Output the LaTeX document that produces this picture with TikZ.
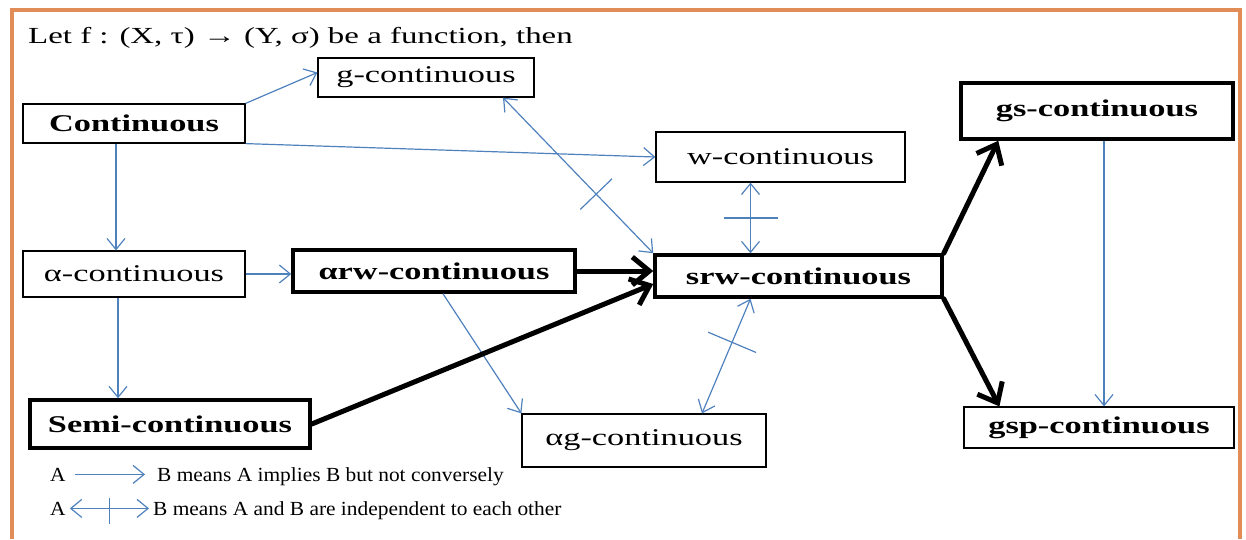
\documentclass[tikz,border=0pt]{standalone}
\usepackage{fontspec}
\setmainfont{Liberation Serif}[FakeStretch=1.43]
\newfontfamily\legendfont{Liberation Serif}[FakeStretch=1.07]
\usepackage{xcolor}
\usetikzlibrary{arrows.meta, decorations.markings}

\definecolor{linkblue}{RGB}{79,129,189}
\definecolor{frameorange}{RGB}{226,141,88}

\tikzset{
    box/.style={draw, fill=white, line width=1.2pt, inner sep=0pt, font=\fontsize{24}{28}\selectfont},
    boldbox/.style={box, line width=3.5pt, font=\fontsize{24}{28}\selectfont\bfseries},
    legend/.style={inner sep=4pt, font=\legendfont\fontsize{20}{24}\selectfont},
    implies/.style={draw=linkblue, line width=1.2pt, -{Straight Barb[length=11pt,width=18pt]}},
    strong/.style={line width=5pt, line cap=round, -{Straight Barb[length=17pt,width=28pt]}},
    indep/.style n args={3}{draw=linkblue, line width=1.2pt,
        {Straight Barb[length=11pt,width=18pt]}-{Straight Barb[length=11pt,width=18pt]},
        postaction={decorate},
        decoration={markings, mark=at position #1 with {\draw[arrows=-, linkblue, line width=1.2pt] (0,#2) -- (0,-#3);}}},
}

\begin{document}
\begin{tikzpicture}[x=1pt, y=-1pt]
                \useasboundingbox (0,0) rectangle (1246,539);
                \draw[frameorange, line width=4pt] (12,539) -- (12,10) -- (1240,10) -- (1240,539);
                \node[anchor=base west, inner sep=0pt, font=\fontsize{23}{28}\selectfont] (title) at (28,43) {Let f : (X, τ) → (Y, σ) be a function, then};

                % implications
                \node at (134,123.5) [boldbox, line width=1.2pt, minimum width=222pt, minimum height=39pt] (cont) {Continuous};
                \node at (426,77.5) [box, minimum width=216pt, minimum height=39pt] (gcont) {g-continuous};
                \node at (780.5,157) [box, minimum width=249pt, minimum height=50pt] (wcont) {w-continuous};
                \node at (1097,111) [boldbox, minimum width=272pt, minimum height=56pt] (gscont) {gs-continuous};
                \node at (134,274) [box, minimum width=222pt, minimum height=46pt] (acont) {α-continuous};
                \node at (434,271) [boldbox, minimum width=282pt, minimum height=42pt] (arwcont) {αrw-continuous};
                \node at (798.5,276) [boldbox, minimum width=287pt, minimum height=42pt] (srwcont) {srw-continuous};
                \node at (644,440.5) [box, minimum width=244pt, minimum height=53pt] (agcont) {αg-continuous};
                \node at (170,424) [boldbox, minimum width=280pt, minimum height=48pt] (semicont) {Semi-continuous};
                \node at (1099,427.5) [boldbox, line width=1.2pt, minimum width=270pt, minimum height=41pt] (gspcont) {gsp-continuous};

                \draw[implies] (cont.north east) -- ([yshift=5pt]gcont.west);
                \draw[implies] (cont.south east) -- (wcont.west);
                \draw[implies] ([xshift=-18pt]cont.south) -- ([xshift=-18pt]acont.north);
                \draw[implies] (acont.east) -- (acont.east -| arwcont.west);
                \draw[implies] ([xshift=-16pt]acont.south) -- ([xshift=-16pt]acont.south |- semicont.north);
                \draw[implies] ([xshift=9pt]arwcont.south) -- (agcont.north west);
                \draw[implies] ([xshift=7pt]gscont.south) -- ([xshift=7pt]gscont.south |- gspcont.north);

                \draw[strong] (arwcont.east) -- (arwcont.east -| srwcont.west);
                \draw[strong] (semicont.east) -- ([yshift=-8pt]srwcont.west);
                \draw[strong] (srwcont.north east) -- ([xshift=39pt]gscont.south west);
                \draw[strong] (srwcont.south east) -- ([xshift=36pt]gspcont.north west);

                \draw[indep={0.62}{22pt}{22pt}] ([xshift=77pt]gcont.south) -- (srwcont.north west);
                \draw[indep={0.5}{27pt}{27pt}] ([xshift=-30pt]wcont.south) -- ([xshift=-30pt]wcont.south |- srwcont.north);
                \draw[indep={0.38}{26pt}{26pt}] ([xshift=-48pt]srwcont.south) -- ([xshift=58pt]agcont.north);

                % legend
                \node at (46,481) [legend, anchor=base west] (legA1) {A};
                \node at (153,481) [legend, anchor=base west] (legB1) {B means A implies B but not conversely};
                \node at (46,515) [legend, anchor=base west] (legA2) {A};
                \node at (149,515) [legend, anchor=base west] (legB2) {B means A and B are independent to each other};
                \draw[implies, shorten <=5pt, shorten >=8pt] (legA1.east) -- (legA1.east -| legB1.west);
                \draw[indep={0.5}{10pt}{16pt}] (legA2.east) -- (legA2.east -| legB2.west);
\end{tikzpicture}
\end{document}
